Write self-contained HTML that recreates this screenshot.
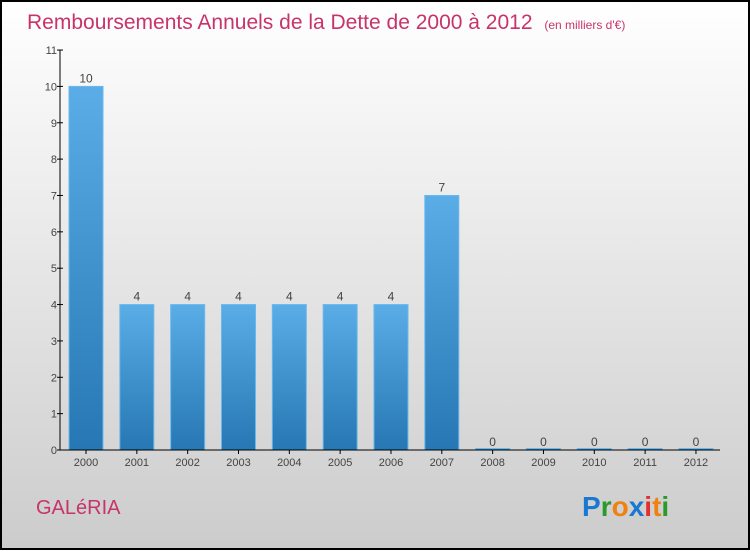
<!DOCTYPE html>
<html><head><meta charset="utf-8"><style>
body{margin:0}
svg text{font-family:"Liberation Sans",sans-serif}
</style></head><body>
<svg width="750" height="550" xmlns="http://www.w3.org/2000/svg">
<defs>
<linearGradient id="bg" x1="0" y1="0" x2="0" y2="1"><stop offset="0" stop-color="#ffffff"/><stop offset="1" stop-color="#cccccc"/></linearGradient>
<linearGradient id="bar" x1="0" y1="0" x2="0" y2="1"><stop offset="0" stop-color="#5aade6"/><stop offset="1" stop-color="#2677b3"/></linearGradient>
</defs>
<rect x="1" y="1" width="748" height="548" fill="url(#bg)" stroke="#000" stroke-width="2"/>
<text x="27" y="29" font-size="21" fill="#c8336a">Remboursements Annuels de la Dette de 2000 à 2012 <tspan font-size="12" dx="6">(en milliers d'€)</tspan></text>
<g id="yaxis"></g>
<g id="bars"></g>
<g id="xaxis"></g>
<text x="36" y="514" font-size="20" fill="#c8336a">GALéRIA</text>
<text x="582" y="516" font-size="28" font-weight="bold"><tspan fill="#1a78d0">P</tspan><tspan fill="#2a9a2a">r</tspan><tspan fill="#f08010">o</tspan><tspan fill="#1a78d0">x</tspan><tspan fill="#e03030">i</tspan><tspan fill="#f08010">t</tspan><tspan fill="#2a9a2a">i</tspan></text>
</svg>
<script>
const categories=["2000","2001","2002","2003","2004","2005","2006","2007","2008","2009","2010","2011","2012"];
const values=[10,4,4,4,4,4,4,7,0,0,0,0,0];
const yTicks=[0,1,2,3,4,5,6,7,8,9,10,11];
const NS="http://www.w3.org/2000/svg";
const y0=450,yUnit=36.36,x0=86,step=50.83,bw=34;
const ys=v=>y0-v*yUnit, xs=i=>x0+i*step;
function mk(t,a,p,txt){const e=document.createElementNS(NS,t);for(const k in a)e.setAttribute(k,a[k]);if(txt!==undefined)e.textContent=txt;p.appendChild(e);return e;}
const ya=document.getElementById('yaxis'),xa=document.getElementById('xaxis'),bg=document.getElementById('bars');
mk('line',{x1:60,y1:ys(11),x2:60,y2:y0,stroke:'#000'},ya);
mk('line',{x1:60,y1:y0,x2:720,y2:y0,stroke:'#000'},xa);
yTicks.forEach(t=>{
 const l=mk('line',{x1:57,y1:ys(t),x2:63,y2:ys(t),stroke:'#000'},ya);
 
 
 const tx=mk('text',{x:57,y:ys(t)+4,'font-size':11,fill:'#444','text-anchor':'end'},ya,String(t));
 
 
});
categories.forEach((c,i)=>{
 const v=values[i],h=Math.max(v*yUnit,1.5);
 const r=mk('rect',{x:xs(i)-bw/2,y:y0-h,width:bw,height:h,fill:'url(#bar)',stroke:'#6bb8ec','stroke-width':1},bg);
 
 
 const vl=mk('text',{x:xs(i),y:ys(v)-4,'font-size':12,fill:'#444','text-anchor':'middle'},bg,String(v));
 
 
 mk('line',{x1:xs(i),y1:y0,x2:xs(i),y2:y0+4,stroke:'#000'},xa);
 const xl=mk('text',{x:xs(i),y:466,'font-size':11,fill:'#444','text-anchor':'middle'},xa,c);
 
 
});
</script>
</body></html>
